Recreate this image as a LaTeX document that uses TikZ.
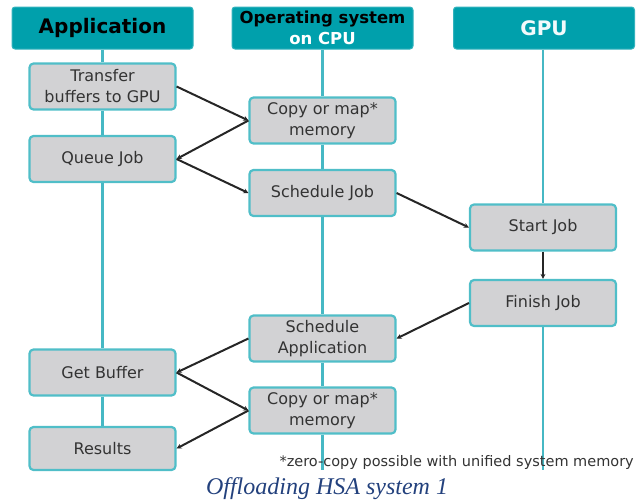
\documentclass[tikz,border=0pt]{standalone}
\usepackage{fontspec}
\setmainfont{DejaVu Sans}
\newfontfamily\capfont{Liberation Serif}
\usetikzlibrary{arrows.meta}
\definecolor{headfill}{RGB}{0,160,172}
\definecolor{edgeteal}{RGB}{80,190,200}
\definecolor{lifeteal}{RGB}{70,184,196}
\definecolor{boxgray}{RGB}{210,210,212}
\definecolor{capblue}{RGB}{35,65,125}
\begin{document}
\begin{tikzpicture}[x=1pt,y=-1pt,
  header/.style={fill=headfill, draw=headfill!80!white, line width=1pt, rounded corners=3pt,
    minimum width=181pt, minimum height=42pt, inner sep=0pt, align=center},
  stepbox/.style={fill=boxgray, draw=edgeteal, line width=2.2pt, rounded corners=4pt,
    minimum width=146pt, minimum height=46pt, inner sep=0pt, align=center,
    font=\fontsize{16}{21}\selectfont, text=black!80},
  lifeline/.style={draw=lifeteal, line width=2.6pt},
  flow/.style={draw=black!85, line width=2pt, -{Stealth[length=5pt,width=5pt]}}]
\useasboundingbox (0,0) rectangle (639,501);

% column headers
\node[header, font=\fontsize{20}{22}\selectfont\bfseries] (happ) at (102.5,28) {Application};
\node[header, font=\fontsize{16.5}{21}\selectfont\bfseries] (hos) at (322.5,28) {Operating system\\\textcolor{white}{on CPU}};
\node[header, font=\fontsize{20}{22}\selectfont\bfseries, text=white!95!headfill] (hgpu) at (544,28) {GPU};

% lifeline ends
\coordinate (osend) at (322.5,470);
\coordinate (gpuend) at (543,470);

% steps
\node[stepbox] (trans) at (102.5,86.5) {Transfer\\buffers to GPU};
\node[stepbox] (queue) at (102.5,159) {Queue Job};
\node[stepbox] (copya) at (322.5,120.5) {Copy or map*\\memory};
\node[stepbox] (sched) at (322.5,193) {Schedule Job};
\node[stepbox] (start) at (543,227.5) {Start Job};
\node[stepbox] (finish) at (543,303) {Finish Job};
\node[stepbox] (sapp) at (322.5,338.5) {Schedule\\Application};
\node[stepbox] (getbuf) at (102.5,372.5) {Get Buffer};
\node[stepbox] (copyb) at (322.5,410.5) {Copy or map*\\memory};
\node[stepbox, minimum height=43pt] (results) at (102.5,448.5) {Results};

% lifelines between the steps
\draw[lifeline] (happ.south) -- (trans.north);
\draw[lifeline] (trans.south) -- (queue.north);
\draw[lifeline] (queue.south) -- (getbuf.north);
\draw[lifeline] (getbuf.south) -- (results.north);
\draw[lifeline] (hos.south) -- (copya.north);
\draw[lifeline] (copya.south) -- (sched.north);
\draw[lifeline] (sched.south) -- (sapp.north);
\draw[lifeline] (sapp.south) -- (copyb.north);
\draw[lifeline] (copyb.south) -- (osend);
\draw[lifeline] (hgpu.south -| start.north) -- (start.north);
\draw[lifeline] (finish.south) -- (gpuend);

% message flow
\draw[flow] (trans.east) -- (copya.west);
\draw[flow] (copya.west) -- (queue.east);
\draw[flow] (queue.east) -- (sched.west);
\draw[flow] (sched.east) -- (start.west);
\draw[flow] (start.south) -- (finish.north);
\draw[flow] (finish.west) -- (sapp.east);
\draw[flow] (sapp.west) -- (getbuf.east);
\draw[flow] (getbuf.east) -- (copyb.west);
\draw[flow] (copyb.west) -- (results.east);

% footnote and caption
\node[anchor=base east, inner sep=0pt, text=black!80, font=\fontsize{14.5}{16}\selectfont] (note) at (634,466) {*zero-copy possible with unified system memory};
\node[anchor=base, inner sep=0pt, text=capblue, font=\capfont\itshape\fontsize{24}{26}\selectfont] (cap) at (327,494) {Offloading HSA system 1};
\end{tikzpicture}
\end{document}
